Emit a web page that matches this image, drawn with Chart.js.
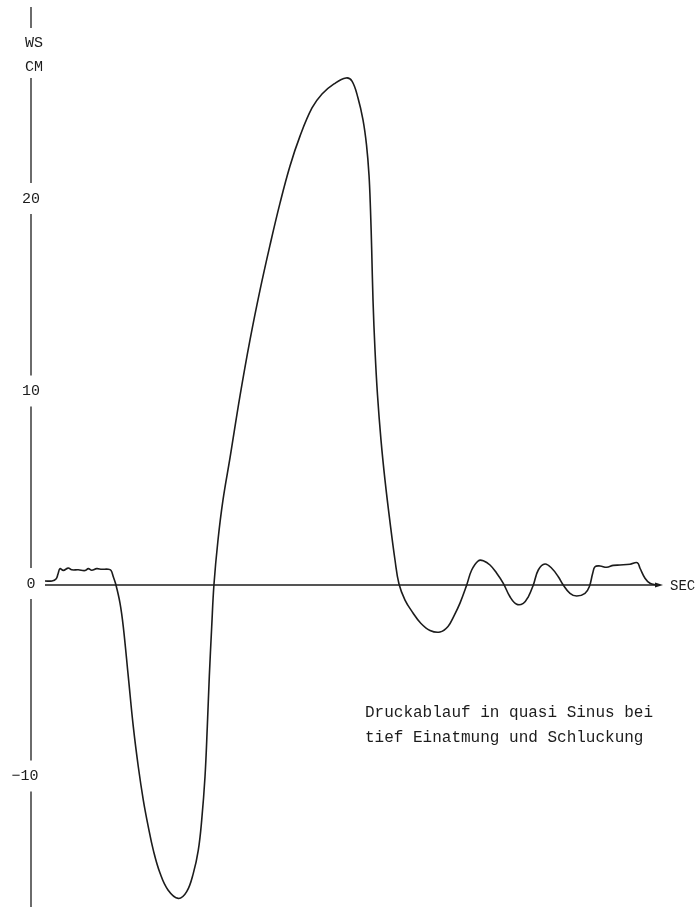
<!DOCTYPE html>
<html>
<head>
<meta charset="utf-8">
<script src="https://cdn.jsdelivr.net/npm/chart.js@4.4.1/dist/chart.umd.min.js"></script>
<style>
  html, body { margin: 0; padding: 0; background: #fff; }
  #wrap { width: 698px; height: 909px; position: relative; }
</style>
</head>
<body>
<div id="wrap"><canvas id="druckChart"></canvas></div>
<script>
// time along the recording (arbitrary seconds units)
const times = [0, 0.7, 1.1, 1.3, 1.5, 1.83, 2.33, 2.67, 3.33, 4.0, 4.33, 4.67, 5.17, 5.67, 6.33, 6.6, 6.83, 7.07,
  7.5, 7.83, 8.33, 8.83, 9.33, 9.83, 10.33, 10.83, 11.5, 12.3, 13.33, 14.17, 14.83, 15.33, 15.67, 16.0, 16.23, 16.43,
  16.67, 16.9, 17.3, 17.8, 18.5, 19.5, 20.5, 21.5, 22.5, 23.5, 24.5, 25.5, 26.7, 27.7, 28.9,
  30.1, 30.7, 31.3, 31.8, 32.15, 32.4, 32.55, 32.67, 32.8, 33.0, 33.25, 33.6, 34.0, 34.5, 35.0, 35.4,
  36.0, 36.8, 37.6, 38.5, 39.5, 40.3, 40.9, 41.5,
  42.17, 42.67, 43.33, 43.83, 44.5, 45.17, 45.83, 46.5, 47.17, 47.83, 48.33, 48.83, 49.33, 50.0,
  50.67, 51.33, 51.83, 52.5, 53.17, 54.0, 54.43, 54.77, 55.0, 55.5, 56.17, 56.83, 57.5, 58.5, 59.23, 59.5, 60.0,
  60.5, 61.17]
// pressure in cm water column
const pressure = [0.21, 0.21, 0.31, 0.57, 0.85, 0.76, 0.88, 0.79, 0.79, 0.75, 0.85, 0.77, 0.85, 0.82, 0.82, 0.76, 0.43, 0.05,
  -0.94, -2.17, -4.76, -7.36, -9.44, -11.17, -12.56, -13.77, -14.96, -15.84, -16.28, -15.93, -14.98, -13.77, -12.21, -9.96, -7.36, -4.76,
  -2.17, 0.05, 2.34, 4.42, 6.6, 9.82, 12.73, 15.32, 17.66, 19.84, 21.77, 23.32, 24.78, 25.51, 26.03,
  26.34, 26.18, 25.3, 24.16, 22.86, 21.3, 19.48, 17.4, 14.81, 12.21, 9.87, 7.53, 5.45, 3.27, 1.3, 0.05,
  -0.78, -1.45, -2.0, -2.36, -2.44, -2.15, -1.6, -0.94,
  0, 0.78, 1.26, 1.26, 1.04, 0.61, 0.09, -0.61, -1.0, -0.95, -0.61, 0, 0.78, 1.09,
  0.87, 0.43, 0, -0.43, -0.57, -0.43, -0.09, 0.61, 0.95, 0.99, 0.92, 1.02, 1.04, 1.08, 1.16, 0.87, 0.35,
  0.09, 0]

const yTicks = [20, 10, 0, -10]
const unitLabels = ['WS', 'CM']
const xLabel = 'SEC'
const noteLines = ['Druckablauf in quasi Sinus bei', 'tief Einatmung und Schluckung']

const ink = '#1c1c1c'
const mono = '"Liberation Mono", "DejaVu Sans Mono", monospace'

const axesPlugin = {
  id: 'typedAxes',
  afterDatasetsDraw(chart) {
    const ctx = chart.ctx
    const xs = chart.scales.x
    const ys = chart.scales.y
    const axisX = xs.getPixelForValue(-1.4)
    const y0 = ys.getPixelForValue(0)
    ctx.save()
    ctx.strokeStyle = ink
    ctx.fillStyle = ink
    ctx.lineWidth = 1.3

    // x axis (zero line) with small arrow tip
    const xEnd = xs.getPixelForValue(61.5)
    ctx.beginPath()
    ctx.moveTo(xs.getPixelForValue(0), y0)
    ctx.lineTo(xEnd, y0)
    ctx.stroke()
    ctx.beginPath()
    ctx.moveTo(xEnd + 3, y0)
    ctx.lineTo(xEnd - 5, y0 - 2.5)
    ctx.lineTo(xEnd - 5, y0 + 2.5)
    ctx.closePath()
    ctx.fill()
    ctx.font = '14px ' + mono
    ctx.textAlign = 'left'
    ctx.textBaseline = 'middle'
    ctx.fillText(xLabel, xEnd + 10, y0 + 1)

    // y axis, broken where labels sit
    ctx.font = '15px ' + mono
    ctx.textAlign = 'center'
    const gaps = [[28, 78]]
    ctx.fillText(unitLabels[0], axisX + 3, 43)
    ctx.fillText(unitLabels[1], axisX + 3, 67)
    yTicks.forEach(t => {
      const py = ys.getPixelForValue(t) - 1
      const label = t < 0 ? '\u2212' + Math.abs(t) : String(t)
      ctx.fillText(label, axisX - (t < 0 ? 6 : 0), py)
      gaps.push([py - 16, py + 15])
    })
    let top = 7
    gaps.push([907, 907])
    gaps.forEach(g => {
      ctx.beginPath()
      ctx.moveTo(axisX, top)
      ctx.lineTo(axisX, g[0])
      ctx.stroke()
      top = g[1]
    })

    // note text
    ctx.font = '16px ' + mono
    ctx.textAlign = 'left'
    noteLines.forEach((line, i) => ctx.fillText(line, 365, 713 + i * 25))
    ctx.restore()
  }
}

const ctx1 = document.getElementById('druckChart').getContext('2d')
const myChart = new Chart(ctx1, {
  type: 'line',
  data: {
    datasets: [{
      data: times.map((t, i) => ({ x: t, y: pressure[i] })),
      borderColor: ink,
      borderWidth: 1.6,
      pointRadius: 0,
      fill: false,
      tension: 0.4
    }]
  },
  options: {
    responsive: true,
    maintainAspectRatio: false,
    animation: false,
    layout: { padding: 0 },
    plugins: { legend: { display: false }, tooltip: { enabled: false } },
    scales: {
      x: { type: 'linear', min: -4.5, max: 65.3, display: false },
      y: { type: 'linear', min: -16.83, max: 30.39, display: false }
    }
  },
  plugins: [axesPlugin]
})
</script>
</body>
</html>
